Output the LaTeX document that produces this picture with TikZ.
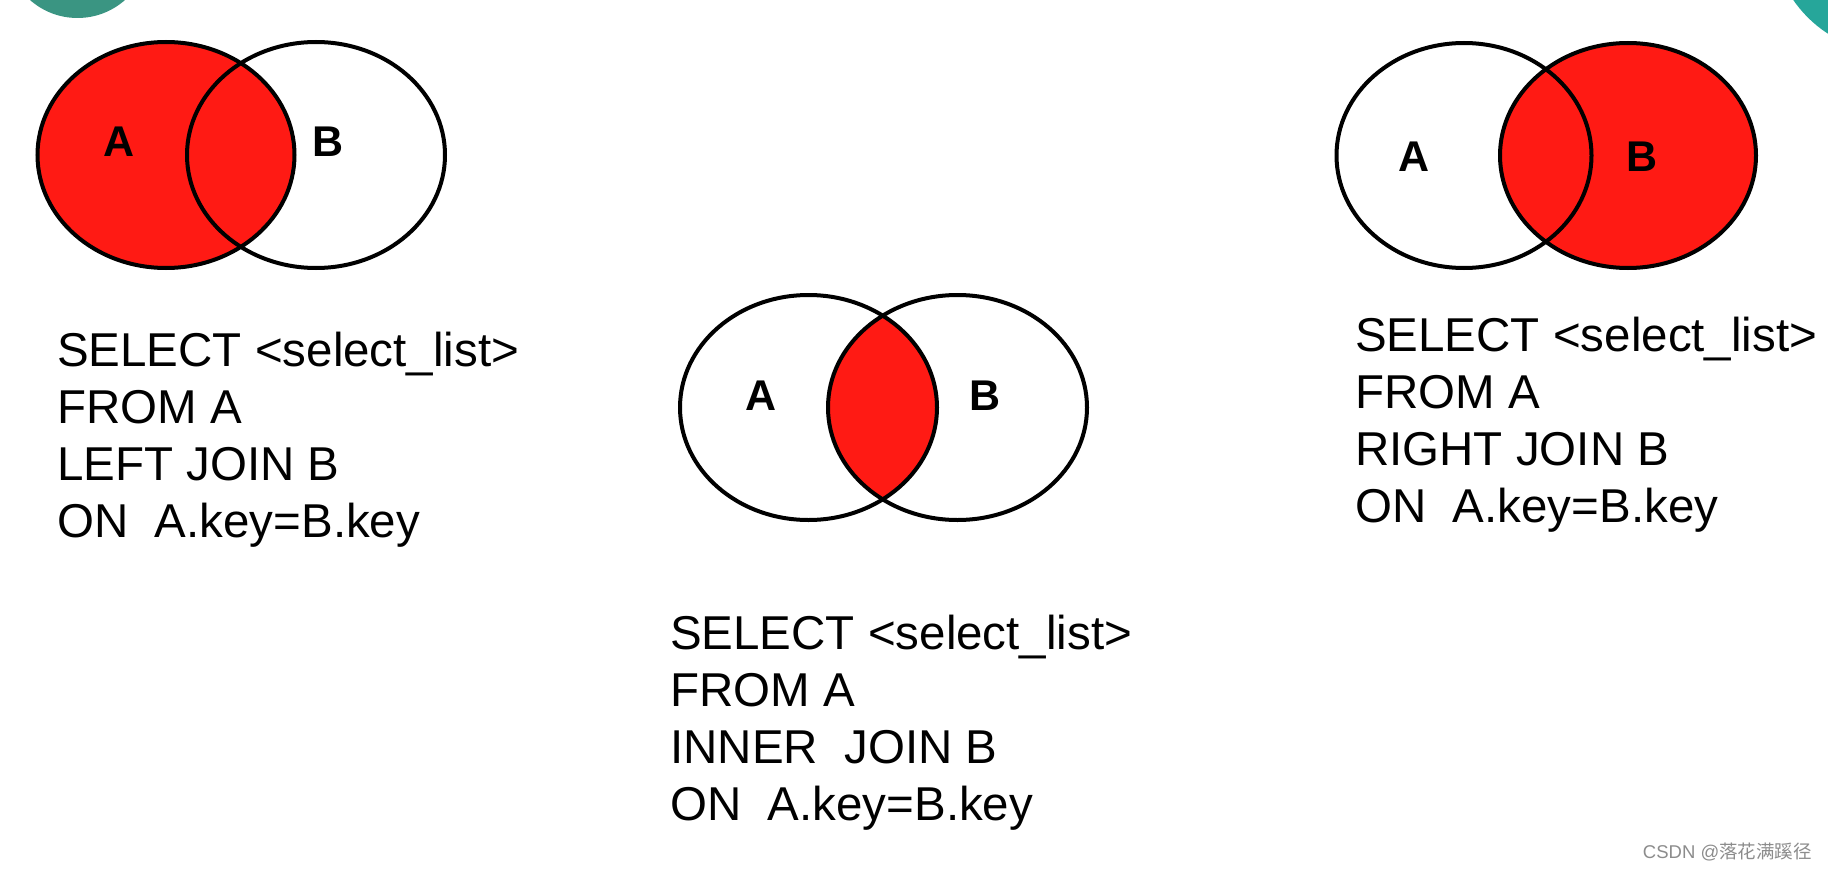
\documentclass[tikz,border=0pt]{standalone}
\usepackage{fontspec}
\setmainfont{Liberation Sans}
\newfontfamily\cjk{Noto Sans CJK SC}
\usetikzlibrary{positioning}
\definecolor{vennRed}{HTML}{FF1A14}
\definecolor{logoTeal}{HTML}{3A9582}
\definecolor{logoCyan}{HTML}{26A69A}
\definecolor{markGray}{HTML}{8C8C8C}
\tikzset{
  setline/.style={draw=black, line width=4pt},
  setfill/.style={fill=vennRed},
  setlabel/.style={font=\fontsize{43}{43}\selectfont\bfseries, inner sep=0pt},
  sqlcode/.style={
    font=\fontsize{47.5}{56.7}\selectfont, align=left,
    inner sep=0pt, anchor=base west,
  },
  watermark/.style={font=\fontsize{18.5}{18.5}\selectfont, text=markGray, inner sep=0pt},
}

\begin{document}
\begin{tikzpicture}[x=1pt, y=-1pt]

  \useasboundingbox (0,0) rectangle (1828,880);

  % Logo remains at the top edge
  \begin{scope}
    \clip (0,0) rectangle (1828,880);
    \fill[logoTeal] (77.5,-53.7) circle (71.7pt);
    \fill[logoCyan] (1895,-70) circle (123.5pt);
  \end{scope}

  % LEFT JOIN
  \fill[setfill] (166,155) ellipse [x radius=128.5pt, y radius=113pt];
  \draw[setline] (166,155) ellipse [x radius=128.5pt, y radius=113pt];
  \draw[setline] (316,155) ellipse [x radius=129pt, y radius=113pt];
  \node[setlabel] (leftA) at (119,142) {A};
  \node[setlabel] (leftB) at (328,142) {B};
  \node[sqlcode] (leftSql) at (57,537) {SELECT <select\_list>\\FROM A\\LEFT JOIN B\\ON\ \ A.key=B.key};

  % INNER JOIN
  \begin{scope}
    \clip (808.5,407.5) ellipse [x radius=128.5pt, y radius=112.5pt];
    \fill[setfill] (957.5,407.5) ellipse [x radius=129.5pt, y radius=112.5pt];
  \end{scope}
  \draw[setline] (808.5,407.5) ellipse [x radius=128.5pt, y radius=112.5pt];
  \draw[setline] (957.5,407.5) ellipse [x radius=129.5pt, y radius=112.5pt];
  \node[setlabel] (innerA) at (761,396) {A};
  \node[setlabel] (innerB) at (985,396) {B};
  \node[sqlcode] (innerSql) at (670,820) {SELECT <select\_list>\\FROM A\\INNER\ \ JOIN B\\ON\ \ A.key=B.key};

  % RIGHT JOIN
  \fill[setfill] (1628,155.5) ellipse [x radius=128pt, y radius=112.5pt];
  \draw[setline] (1464,155.5) ellipse [x radius=127.5pt, y radius=112.5pt];
  \draw[setline] (1628,155.5) ellipse [x radius=128pt, y radius=112.5pt];
  \node[setlabel] (rightA) at (1414,157) {A};
  \node[setlabel] (rightB) at (1642,157) {B};
  \node[sqlcode] (rightSql) at (1355,522) {SELECT <select\_list>\\FROM A\\RIGHT JOIN B\\ON\ \ A.key=B.key};

  % Watermark
  \node[watermark, anchor=base east] (mark) at (1812,858) {CSDN @{\cjk 落花满蹊径}};

\end{tikzpicture}
\end{document}
